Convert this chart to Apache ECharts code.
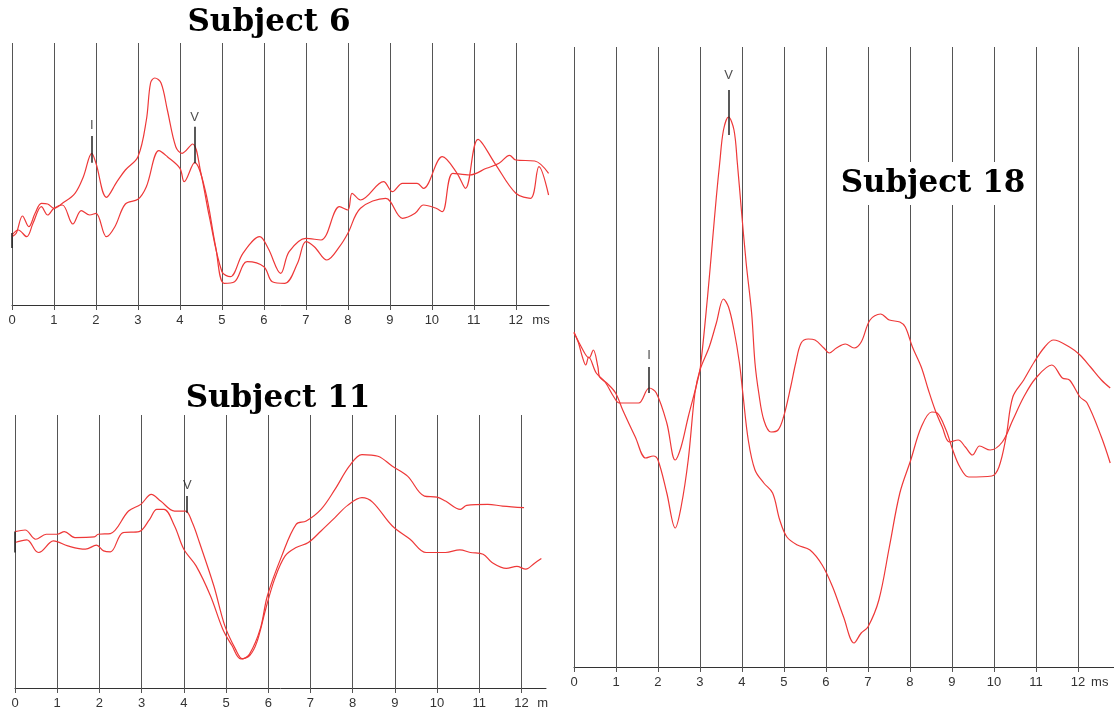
<!DOCTYPE html>
<html>
<head>
<meta charset="utf-8">
<script src="https://cdn.jsdelivr.net/npm/echarts@6/dist/echarts.min.js"></script>
<style>
html,body{margin:0;padding:0;background:#fff;}
#chart{width:1114px;height:710px;}
</style>
</head>
<body>
<div id="chart"></div>
<script>
// ---- data (time in ms, amplitude in arbitrary units) ----
const tickValues = [0,1,2,3,4,5,6,7,8,9,10,11,12];

const s6TraceA = [[0,68.3],[0.1,71.7],[0.25,89],[0.4,78.3],[0.55,91.7],[0.7,101.7],[0.85,101],[1.0,96.7],[1.2,101.7],[1.5,111.7],[1.7,128.3],[1.9,151.7],[2.0,141.7],[2.25,107.7],[2.5,123.3],[2.7,135],[3.0,148.3],[3.2,185],[3.3,222],[3.4,227],[3.55,222],[3.7,195],[3.9,158.3],[4.05,151.7],[4.3,161],[4.5,131.7],[4.7,88.3],[5.0,33.3],[5.2,28.3],[5.5,51.7],[5.9,68.3],[6.1,56.7],[6.4,31.7],[6.6,53.3],[7.0,66.7],[7.36,65],[7.8,98.3],[8.0,95],[8.1,111.7],[8.3,105],[8.85,123.3],[9.06,113.3],[9.3,121.7],[9.65,121.7],[9.8,116.7],[10.25,148.3],[10.6,131.7],[10.8,116.7],[11.1,165.7],[11.5,141.7],[12.0,111.7],[12.35,106.7],[12.55,138.3],[12.78,110]];
const s6TraceB = [[0,70],[0.15,75],[0.35,68.3],[0.5,81.7],[0.7,98.3],[0.85,90],[1.0,96.7],[1.2,100],[1.45,81],[1.65,94.3],[1.85,90],[2.0,91.7],[2.25,68.3],[2.45,78.3],[2.7,101],[3.0,105.7],[3.2,118.3],[3.5,154.3],[3.7,148.3],[4.0,136.7],[4.1,123.3],[4.35,142.3],[4.6,115],[4.85,58.3],[5.05,21.7],[5.3,23.3],[5.6,43.3],[6.0,38.3],[6.2,23.3],[6.5,21.7],[6.8,41.7],[7.0,63.3],[7.2,58.3],[7.5,45],[7.8,58.3],[8.0,71.7],[8.3,96.7],[8.9,106.7],[9.3,86.7],[9.6,91.7],[9.8,100],[10.1,96.7],[10.25,93.3],[10.5,131.7],[10.9,130],[11.3,136.7],[11.6,141.7],[11.85,149.7],[12.0,145],[12.45,144],[12.78,131.7]];
const s6Marks = [{name:'I', t:1.9, from:142.3, to:169, label:180},{name:'V', t:4.35, from:141.7, to:178.3, label:188},{name:'', t:0, from:57, to:72, label:null}];

const s11TraceA = [[0,157],[0.24,158.6],[0.49,149.3],[0.74,154.3],[1.0,154.3],[1.17,157],[1.42,151],[1.88,151.6],[1.97,154.3],[2.26,155],[2.69,177.6],[2.98,184.3],[3.23,194.3],[3.45,187.6],[3.78,177.6],[4.04,177.6],[4.2,166],[4.37,146],[4.71,102.6],[4.97,62.6],[5.22,39.3],[5.39,29.3],[5.56,34.3],[5.81,59.3],[5.98,92.6],[6.32,132.6],[6.66,164.3],[6.9,167.6],[7.25,179.3],[7.58,199.3],[7.92,222.6],[8.22,234.3],[8.6,232.6],[8.94,222.6],[9.3,212.6],[9.7,192.6],[10.0,191.6],[10.2,187.6],[10.55,179.3],[10.7,183.3],[11.2,184.3],[11.55,182.6],[12.06,181]];
const s11TraceB = [[0,146],[0.28,148.6],[0.49,137.6],[0.56,136],[0.83,146],[0.91,147.6],[1.25,142.6],[1.67,139.3],[1.93,143.3],[2.1,137.6],[2.26,136.6],[2.56,156],[2.94,157],[3.19,169.3],[3.36,179.3],[3.53,179.3],[3.78,162.6],[4.0,139.3],[4.29,122.6],[4.63,92.6],[4.92,59.3],[5.14,42.6],[5.35,29.3],[5.56,32.6],[5.73,46],[5.94,79.3],[6.15,109.3],[6.4,132.6],[6.66,141],[6.95,146],[7.25,157.6],[7.58,171],[7.88,183.3],[8.22,191],[8.47,186.6],[8.94,162.6],[9.36,149.3],[9.74,136],[10.2,136],[10.54,138.6],[10.79,136],[11.09,134.3],[11.3,126],[11.64,120],[11.89,122],[12.1,119.3],[12.31,125.3],[12.47,130]];
const s11Marks = [{name:'V', t:4.08, from:176, to:192.6, label:203},{name:'', t:0, from:136, to:157, label:null}];

const s18TraceA = [[0,334],[0.1,325],[0.2,310],[0.28,302],[0.35,310],[0.53,294],[0.74,285],[0.95,270],[1.08,264],[1.29,264],[1.54,264],[1.79,279],[1.96,274],[2.21,244],[2.41,207],[2.55,220],[2.72,250],[2.93,284],[3.01,300],[3.18,370],[3.3,427],[3.39,470],[3.47,504],[3.56,537],[3.68,550],[3.81,537],[3.89,504],[3.98,460],[4.1,404],[4.23,354],[4.31,304],[4.4,274],[4.52,247],[4.69,235],[4.86,237],[4.99,250],[5.16,280],[5.28,304],[5.41,324],[5.58,328],[5.74,327],[5.95,319],[6.08,314],[6.25,319],[6.46,323],[6.67,319],[6.84,325],[7.05,347],[7.3,353],[7.51,347],[7.76,345],[7.89,340],[8.06,320],[8.27,300],[8.44,277],[8.6,257],[8.77,240],[8.94,225],[9.15,227],[9.32,220],[9.49,212],[9.66,221],[9.91,217],[10.2,225],[10.45,247],[10.71,270],[11.0,289],[11.38,302],[11.63,289],[11.8,287],[12.05,270],[12.22,264],[12.56,230],[12.77,204]];
const s18TraceB = [[0,335],[0.15,322],[0.36,309],[0.46,317],[0.57,300],[0.61,290],[0.78,284],[0.99,274],[1.16,257],[1.46,230],[1.71,209],[1.89,211],[2.0,207],[2.21,174],[2.41,139],[2.55,160],[2.72,207],[2.88,274],[3.0,297],[3.22,320],[3.39,344],[3.56,368],[3.68,360],[3.81,337],[3.94,304],[4.02,274],[4.15,227],[4.31,197],[4.52,184],[4.73,174],[4.9,147],[5.07,130],[5.32,122],[5.62,117],[5.91,102],[6.16,80],[6.42,50],[6.67,24],[6.84,34],[7.0,40],[7.26,67],[7.51,120],[7.76,174],[8.02,207],[8.27,240],[8.52,255],[8.65,254],[8.86,237],[9.02,217],[9.19,200],[9.4,190],[9.95,191],[10.12,200],[10.29,230],[10.45,270],[10.71,287],[10.96,305],[11.21,320],[11.42,327],[11.8,320],[12.05,312],[12.3,300],[12.56,287],[12.77,279]];
const s18Marks = [{name:'I', t:1.79, from:274, to:300, label:312},{name:'V', t:3.68, from:532, to:577, label:592}];

const panelTitles = ['Subject 6', 'Subject 11', 'Subject 18'];
const unitLabels = [{t:12.6, text:'ms'}, {t:12.5, text:'m'}, {t:12.52, text:'ms'}];
const xMax = [12.79, 12.58, 12.86];
const yMax = [262, 274, 620];

// ---- chart ----
const RED = '#ee3838';
const grids = [
  {left:12, top:43, width:537, height:262},
  {left:15, top:415, width:531, height:274},
  {left:574, top:47, width:540, height:620}
];

function xAxisFor(i){
  const unit = unitLabels[i];
  return {
    gridIndex:i, type:'value', min:0, max:xMax[i], interval:1,
    axisLine:{show:true, onZero:false, lineStyle:{color:'#333', width:1}},
    axisTick:{show:true, inside:false, length:5, customValues:tickValues, lineStyle:{color:'#555', width:1}},
    axisLabel:{show:true, customValues:tickValues.concat([unit.t]), margin:9,
      color:'#333', fontSize:13, fontFamily:'Liberation Sans, Arial, sans-serif',
      formatter:function(v){ return Math.abs(v-unit.t)<1e-6 ? unit.text : String(v); }},
    splitLine:{show:true, showMinLine:true, showMaxLine:true, lineStyle:{color:'#555', width:1}}
  };
}
function yAxisFor(i){
  return {gridIndex:i, type:'value', min:0, max:yMax[i], show:false, splitLine:{show:false}};
}

const series = [];
const traces = [[s6TraceA, s6TraceB],[s11TraceA, s11TraceB],[s18TraceA, s18TraceB]];
const marks = [s6Marks, s11Marks, s18Marks];
traces.forEach(function(pair, i){
  pair.forEach(function(tr){
    series.push({type:'line', xAxisIndex:i, yAxisIndex:i, data:tr, symbol:'none', smooth:0.35,
      lineStyle:{color:RED, width:1.2}, z:3, silent:true, animation:false});
  });
  series.push({type:'lines', coordinateSystem:'cartesian2d', xAxisIndex:i, yAxisIndex:i,
    data: marks[i].map(function(m){ return {coords:[[m.t,m.from],[m.t,m.to]]}; }),
    lineStyle:{color:'#222', width:1.5, opacity:1}, z:4, silent:true, animation:false});
  series.push({type:'scatter', xAxisIndex:i, yAxisIndex:i, symbolSize:1,
    itemStyle:{color:'rgba(0,0,0,0)'},
    data: marks[i].filter(function(m){return m.label!==null;}).map(function(m){ return {name:m.name, value:[m.t,m.label]}; }),
    label:{show:true, position:'inside', formatter:'{b}', color:'#222', fontSize:13, fontFamily:'Liberation Sans, Arial, sans-serif'},
    z:5, silent:true, animation:false});
});

const titleStyle = {fontFamily:'DejaVu Serif', fontWeight:'bold', fontSize:31, color:'#000'};
const chart = echarts.init(document.getElementById('chart'), null, {renderer:'canvas'});
chart.setOption({
  animation:false,
  backgroundColor:'#fff',
  title:[
    {text:panelTitles[0], left:265, top:3, textAlign:'center', textStyle:titleStyle, padding:[4,4]},
    {text:panelTitles[1], left:274, top:379, textAlign:'center', textStyle:titleStyle, padding:[4,4]},
    {text:panelTitles[2], left:927, top:162, textAlign:'center', textStyle:titleStyle, padding:[6,6], backgroundColor:'#fff'}
  ],
  grid:grids,
  xAxis:[xAxisFor(0), xAxisFor(1), xAxisFor(2)],
  yAxis:[yAxisFor(0), yAxisFor(1), yAxisFor(2)],
  series:series
});
</script>
</body>
</html>
